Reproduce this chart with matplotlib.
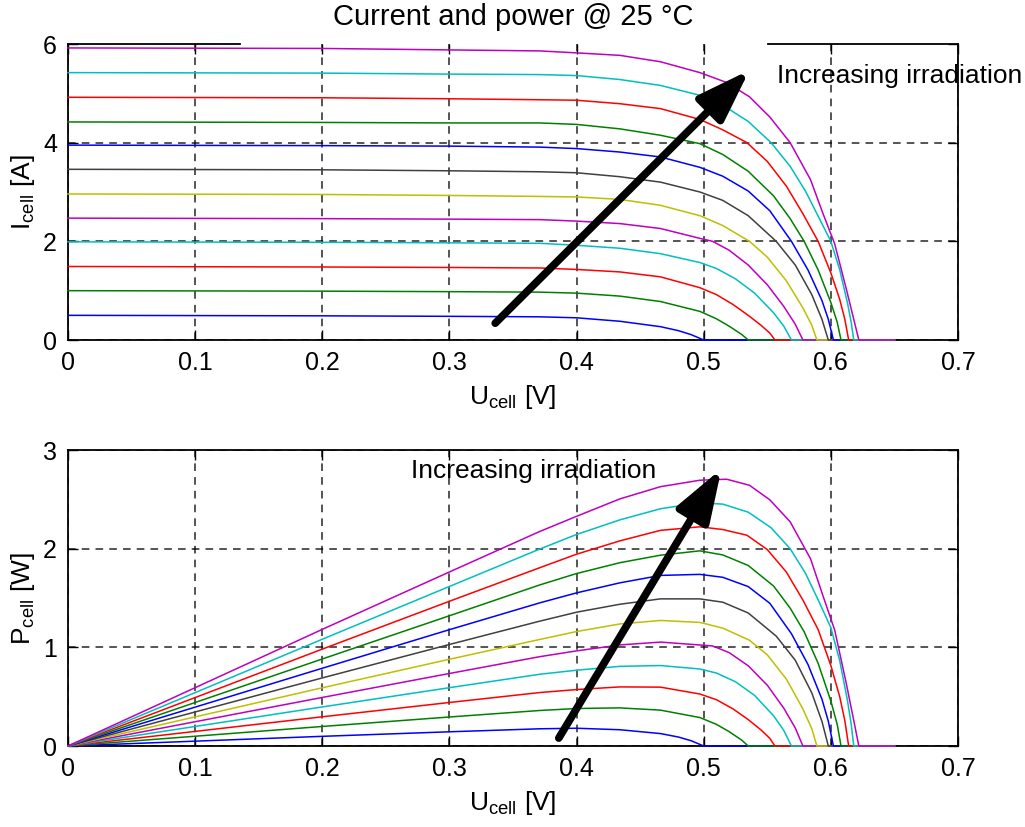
import matplotlib
matplotlib.use("Agg")
import matplotlib.pyplot as plt
import numpy as np
from matplotlib import font_manager

# ---------------- data ----------------
title_text = "Current and power @ 25 °C"
annot_text = "Increasing irradiation"
x_ticks = [0, 0.1, 0.2, 0.3, 0.4, 0.5, 0.6, 0.7]
x_ticklabels = ["0", "0.1", "0.2", "0.3", "0.4", "0.5", "0.6", "0.7"]
i_ticks = [0, 2, 4, 6]
p_ticks = [0, 1, 2, 3]

# curves, lowest irradiation first (U in V, I in A)
u_01 = [0, 0.2, 0.3, 0.371, 0.4, 0.434, 0.466, 0.48, 0.49, 0.50, 0.65]
i_01 = [0.50, 0.49, 0.48, 0.47, 0.45, 0.38, 0.27, 0.19, 0.11, 0.0, 0.0]

u_02 = [0, 0.2, 0.3, 0.371, 0.4, 0.434, 0.466, 0.497, 0.51, 0.52, 0.53, 0.535, 0.65]
i_02 = [1.00, 0.99, 0.98, 0.97, 0.95, 0.89, 0.78, 0.58, 0.43, 0.28, 0.11, 0.0, 0.0]

u_03 = [0, 0.2, 0.3, 0.371, 0.4, 0.434, 0.466, 0.497, 0.51, 0.523, 0.535, 0.545, 0.552, 0.556, 0.65]
i_03 = [1.49, 1.48, 1.47, 1.46, 1.43, 1.38, 1.28, 1.06, 0.92, 0.72, 0.50, 0.30, 0.14, 0.0, 0.0]

u_04 = [0, 0.2, 0.3, 0.371, 0.4, 0.434, 0.466, 0.497, 0.51, 0.525, 0.54, 0.555, 0.563, 0.569, 0.65]
i_04 = [1.99, 1.98, 1.97, 1.96, 1.92, 1.86, 1.75, 1.57, 1.45, 1.24, 0.95, 0.55, 0.28, 0.0, 0.0]

u_05 = [0, 0.2, 0.3, 0.371, 0.4, 0.434, 0.466, 0.497, 0.507, 0.52, 0.535, 0.55, 0.563, 0.572, 0.578, 0.65]
i_05 = [2.47, 2.46, 2.45, 2.44, 2.41, 2.36, 2.26, 2.06, 2.0, 1.82, 1.52, 1.12, 0.68, 0.32, 0.0, 0.0]

u_06 = [0, 0.2, 0.3, 0.371, 0.4, 0.434, 0.466, 0.497, 0.515, 0.536, 0.55, 0.565, 0.578, 0.585, 0.589, 0.65]
i_06 = [2.96, 2.95, 2.93, 2.91, 2.90, 2.85, 2.73, 2.52, 2.32, 2.0, 1.68, 1.2, 0.65, 0.3, 0.0, 0.0]

u_07 = [0, 0.2, 0.3, 0.371, 0.4, 0.434, 0.466, 0.497, 0.515, 0.535, 0.557, 0.572, 0.585, 0.593, 0.598, 0.65]
i_07 = [3.46, 3.45, 3.43, 3.41, 3.39, 3.31, 3.20, 3.0, 2.83, 2.52, 2.0, 1.52, 0.92, 0.42, 0.0, 0.0]

u_08 = [0, 0.2, 0.3, 0.371, 0.4, 0.434, 0.466, 0.497, 0.515, 0.535, 0.552, 0.569, 0.582, 0.593, 0.598, 0.602, 0.65]
i_08 = [3.95, 3.94, 3.93, 3.91, 3.88, 3.81, 3.71, 3.50, 3.32, 3.02, 2.62, 2.0, 1.42, 0.8, 0.42, 0.0, 0.0]

u_09 = [0, 0.2, 0.3, 0.371, 0.4, 0.434, 0.466, 0.497, 0.515, 0.535, 0.555, 0.568, 0.579, 0.59, 0.6, 0.605, 0.608, 0.65]
i_09 = [4.42, 4.41, 4.40, 4.40, 4.37, 4.28, 4.15, 3.98, 3.76, 3.42, 2.92, 2.46, 2.0, 1.42, 0.76, 0.36, 0.0, 0.0]

u_10 = [0, 0.2, 0.3, 0.371, 0.4, 0.434, 0.466, 0.497, 0.515, 0.534, 0.55, 0.565, 0.578, 0.59, 0.6, 0.607, 0.611, 0.614, 0.65]
i_10 = [4.92, 4.91, 4.89, 4.87, 4.86, 4.79, 4.69, 4.47, 4.26, 4.0, 3.62, 3.12, 2.56, 2.0, 1.36, 0.82, 0.42, 0.0, 0.0]

u_11 = [0, 0.2, 0.3, 0.371, 0.4, 0.434, 0.466, 0.497, 0.515, 0.535, 0.553, 0.568, 0.58, 0.591, 0.6, 0.607, 0.613, 0.616, 0.618, 0.65]
i_11 = [5.42, 5.41, 5.39, 5.38, 5.36, 5.28, 5.16, 4.96, 4.76, 4.43, 4.0, 3.52, 3.02, 2.46, 2.0, 1.42, 0.76, 0.36, 0.0, 0.0]

u_12 = [0, 0.2, 0.3, 0.371, 0.4, 0.434, 0.466, 0.497, 0.518, 0.536, 0.552, 0.568, 0.584, 0.594, 0.603, 0.612, 0.618, 0.622, 0.65]
i_12 = [5.92, 5.91, 5.88, 5.86, 5.82, 5.77, 5.64, 5.42, 5.22, 4.93, 4.52, 4.0, 3.25, 2.55, 1.95, 1.05, 0.42, 0.0, 0.0]

curve_colors = ["#0000FF", "#008000", "#FF0000", "#00BFBF", "#BF00BF", "#BFBF00",
                "#404040", "#0000FF", "#008000", "#FF0000", "#00BFBF", "#BF00BF"]

# arrows (tail, head) in data coordinates
arrow_top = [(0.336, 0.34), (0.536, 5.47)]
arrow_bot = [(0.386, 0.08), (0.514, 2.81)]
text_top_pos = (0.558, 5.36)
text_bot_pos = (0.366, 2.79)

# ---------------- figure ----------------
available = {f.name for f in font_manager.fontManager.ttflist}
fam = [f for f in ["Liberation Sans Narrow", "Liberation Sans", "DejaVu Sans"] if f in available]
plt.rcParams["font.family"] = fam
plt.rcParams["font.size"] = 18

fig = plt.figure(figsize=(10.25, 8.27), dpi=100)
left, width = 68 / 1025, 890 / 1025
ax1 = fig.add_axes([left, 1 - 340 / 827, width, 296 / 827])
ax2 = fig.add_axes([left, 1 - 746 / 827, width, 296 / 827])

us = [u_01, u_02, u_03, u_04, u_05, u_06, u_07, u_08, u_09, u_10, u_11, u_12]
is_ = [i_01, i_02, i_03, i_04, i_05, i_06, i_07, i_08, i_09, i_10, i_11, i_12]

for u, i, c in zip(us, is_, curve_colors):
    u = np.asarray(u)
    i = np.asarray(i)
    ax1.plot(u, i, color=c, lw=1.1, clip_on=False, zorder=3)
    ax2.plot(u, u * i, color=c, lw=1.1, clip_on=False, zorder=3)


def style(ax, yticks, ylim):
    ax.set_xlim(0, 0.7)
    ax.set_ylim(*ylim)
    ax.set_xticks(x_ticks)
    ax.set_xticklabels(x_ticklabels)
    ax.set_yticks(yticks)
    ax.tick_params(direction="in", length=7, width=1.0, top=True, right=True,
                   labelsize=18, pad=8, colors="black")
    ax.grid(True, color="black", linestyle=(0, (5, 4)), linewidth=1.1, alpha=0.85)
    for s in ax.spines.values():
        s.set_linewidth(1.3)
        s.set_color("black")
    ax.set_axisbelow(True)


style(ax1, i_ticks, (0, 6))
style(ax2, p_ticks, (0, 3))

# top frame of upper plot is only partly visible in the reference
ax1.spines["top"].set_visible(False)
ax1.get_ygridlines()[-1].set_visible(False)
ax1.plot([0, 0.193], [1, 1], transform=ax1.transAxes, color="black", lw=1.3, clip_on=False)
ax1.plot([0.787, 1.0], [1, 1], transform=ax1.transAxes, color="black", lw=1.3, clip_on=False)

ax1.set_xlabel(r"$\mathregular{U_{cell}}$ [V]", fontsize=19, labelpad=6)
ax2.set_xlabel(r"$\mathregular{U_{cell}}$ [V]", fontsize=19, labelpad=6)
ax1.set_ylabel(r"$\mathregular{I_{cell}}$ [A]", fontsize=19, labelpad=4)
ax2.set_ylabel(r"$\mathregular{P_{cell}}$ [W]", fontsize=19, labelpad=4)
fig.text(513 / 1025, 1 - 17 / 827, title_text, fontsize=21, ha="center", va="center")

arrow_props = dict(arrowstyle="-|>,head_length=1.6,head_width=0.55", lw=5.5,
                   color="black", mutation_scale=20, shrinkA=0, shrinkB=0,
                   capstyle="round")
ax1.annotate("", xy=arrow_top[1], xytext=arrow_top[0], arrowprops=arrow_props, zorder=5)
ax2.annotate("", xy=arrow_bot[1], xytext=arrow_bot[0], arrowprops=arrow_props, zorder=5)

ax1.text(text_top_pos[0], text_top_pos[1], annot_text, fontsize=19, ha="left",
         va="center", clip_on=False, zorder=6)
ax2.text(text_bot_pos[0], text_bot_pos[1], annot_text, fontsize=19, ha="center",
         va="center", zorder=6)

fig.savefig("out.png", dpi=100)
